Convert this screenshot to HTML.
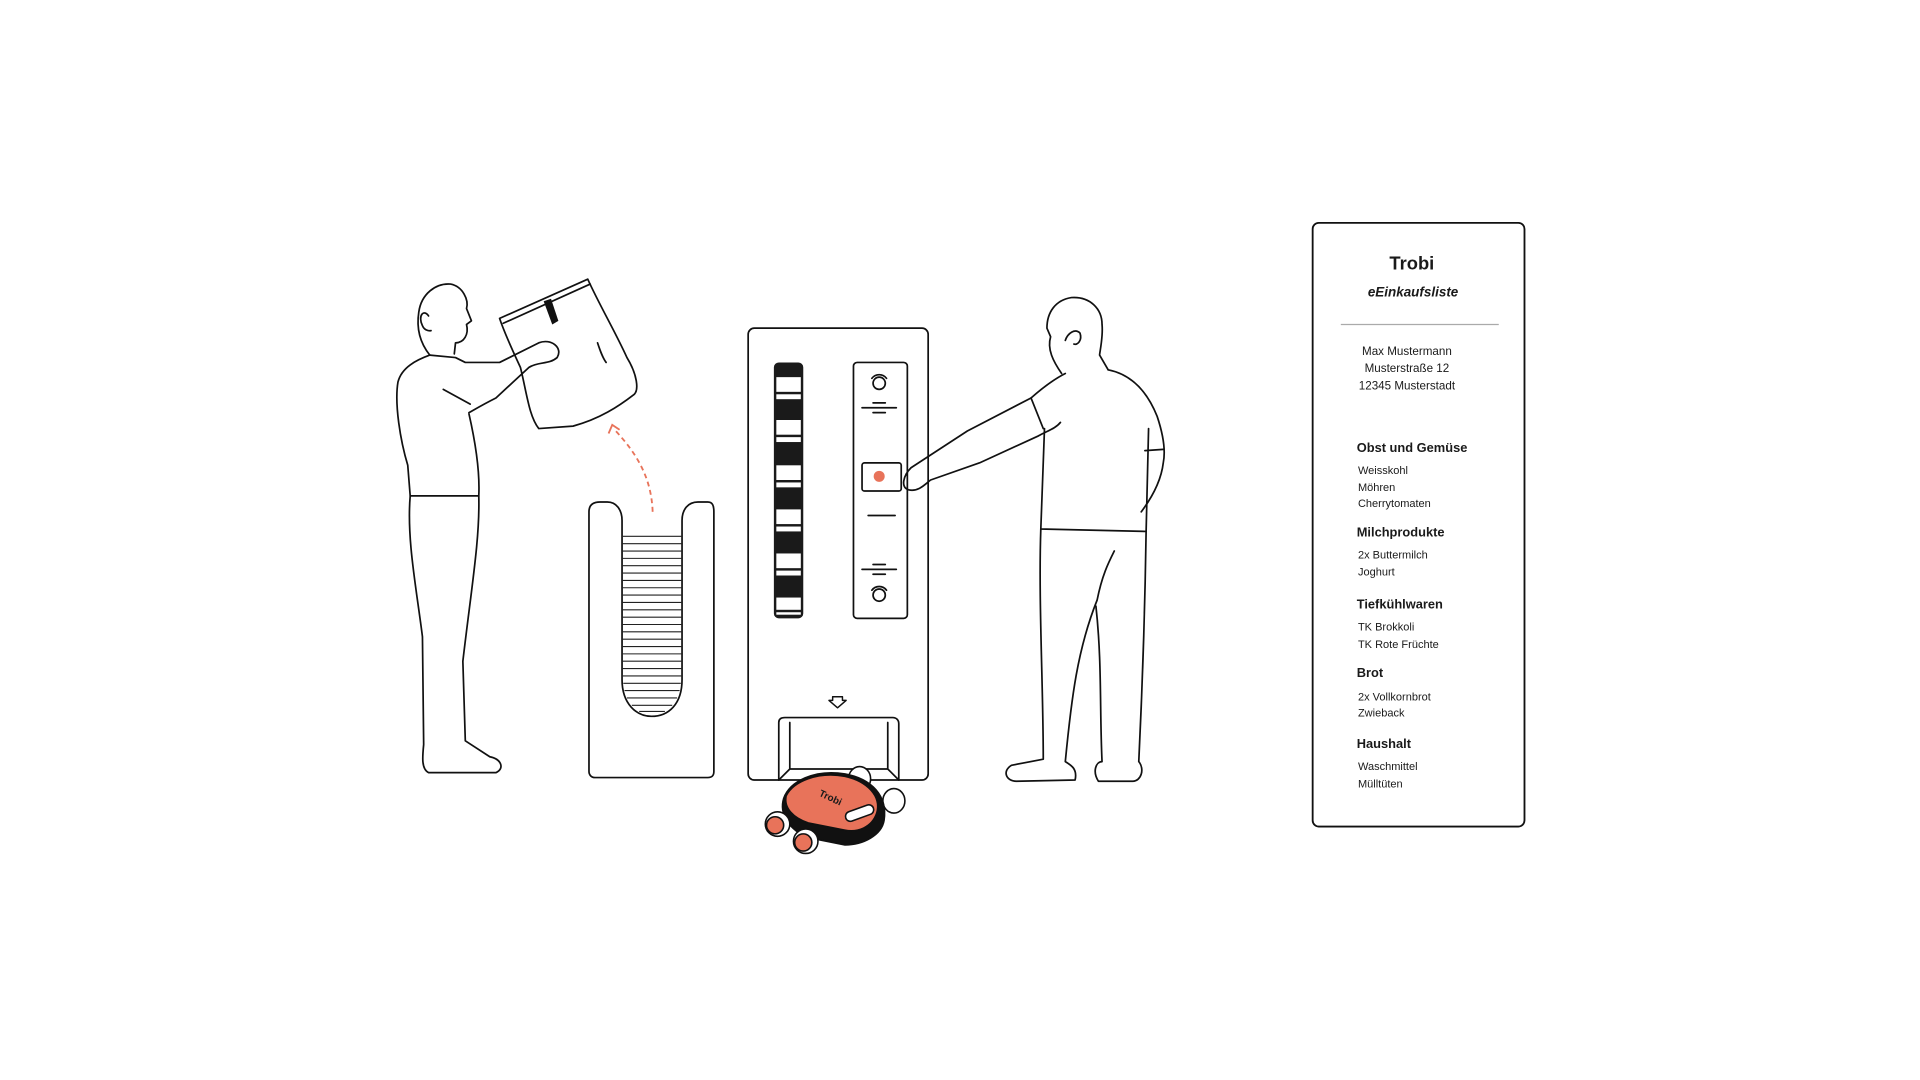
<!DOCTYPE html>
<html><head><meta charset="utf-8"><style>
html,body{margin:0;padding:0;background:#fff;}
svg{display:block}
text{font-family:"Liberation Sans",sans-serif;fill:#1a1a1a}
</style></head><body>
<svg width="1920" height="1080" viewBox="0 0 1568 882" xmlns="http://www.w3.org/2000/svg">
<rect width="1568" height="882" fill="#fff"/>
<g fill="none" stroke="#111" stroke-width="1.4" stroke-linejoin="round" stroke-linecap="round">
<!-- Left person -->
<path d="M351 290 C343 280 340 268 342 255 C344 240 356 231 368 232 C378 234 383 245 381 252 L385 262 L381 265 C383 273 379 280 372 280 L371 289"/>
<path d="M350 258 C346 252 341 258 345 266 C347 271 352 270 352 270"/>
<path d="M351 290 C340 294 328 300 325 312 C322 330 327 360 333 380 L335 405 L391 405 C392 385 388 360 383 338"/>
<path d="M351 290 L372 292 L380 296 L408 296 L440 280 C450 276 460 284 455 292 C448 298 440 295 432 300 L405 325 C395 330 390 333 383 337"/>
<path d="M362 318 L384 330"/>
<path d="M335 405 C332 440 340 480 345 520 L346 608 C345 618 344 628 350 631 L405 631 C412 628 410 620 400 618 L380 605 L378 540 C385 480 392 440 391 405"/>
<!-- Bag -->
<path d="M408 260 L480 228 C490 250 502 270 512 292 C520 305 522 318 518 322 C505 332 490 342 468 348 L440 350 C432 340 430 320 425 300 C418 285 412 272 408 260 Z"/>
<path d="M411 264 L482 232"/>
<path d="M488 280 C490 286 492 292 495 296"/>
<!-- Right person -->
<path d="M867 305 C860 295 855 285 858 275 L855 268 C855 255 862 245 875 243 C890 242 900 252 900 265 C901 275 898 288 898 290 L905 302"/>
<path d="M870 278 C872 272 878 268 882 272 C884 278 880 282 877 281"/>
<path d="M870 305 C860 310 850 318 842 325 L790 352 L744 382 C738 388 735 398 742 400 C750 402 756 395 760 392 L800 378 L848 356 C855 352 862 350 866 345"/>
<path d="M842 325 L852 350"/>
<path d="M905 302 C920 305 935 315 945 340 C950 355 952 368 950 378 C948 395 938 410 932 418"/>
<path d="M935 368 L950 367"/>
<path d="M853 350 L850 432 L936 434 L938 350"/>
<path d="M850 432 C848 490 852 560 852 620 L826 625 C818 630 822 638 830 638 L878 637 C880 628 875 625 870 622 C875 570 880 530 896 490 C900 470 905 460 910 450"/>
<path d="M936 434 C935 500 933 560 930 622 C935 628 932 638 925 638 L897 638 C892 630 895 622 900 622 C898 580 900 540 895 495"/>
<!-- Bin -->
<path d="M481 418 C481 412 485 410 490 410 L496 410 C503 410 508 416 508 425 L508 555 C508 575 520 585 532 585 C546 585 557 575 557 555 L557 425 C557 416 562 410 570 410 L578 410 C582 410 583 413 583 418 L583 630 C583 634 581 635 578 635 L486 635 C483 635 481 633 481 630 Z"/>
<!-- Machine -->
<rect x="611" y="268" width="147" height="369" rx="5"/>
<rect x="697" y="296" width="44" height="209" rx="3"/>
<rect x="704" y="378" width="32" height="23" rx="2"/>
<path d="M709 421 L731 421"/>
<circle cx="718" cy="313" r="5"/><path d="M712 309 C715 305 721 305 724 309"/>
<circle cx="718" cy="486" r="5"/><path d="M712 482 C715 478 721 478 724 482"/>
<path d="M704 333 L732 333 M713 329 L723 329 M713 337 L723 337"/>
<path d="M704 465 L732 465 M713 461 L723 461 M713 469 L723 469"/>
<path d="M680 569 L688 569 L688 572 L691 572 L684 578 L677 572 L680 572 Z" stroke-width="1.2"/>
<path d="M636 637 L636 590 C636 587 638 586 641 586 L729 586 C732 586 734 588 734 591 L734 637"/>
<path d="M645 590 L645 628 L636 637 M725 590 L725 628 L734 637 M645 628 L725 628"/>
<!-- Card -->
<rect x="1072" y="182" width="173" height="493" rx="5" stroke-width="1.5"/>
</g>
<path d="M444 246 L450 244 L456 262 L451 265 Z" fill="#111"/>
<!-- bin stripes -->
<g stroke="#222" stroke-width="0.9">
<path d="M508 438 H557 M508 444 H557 M508 450 H557 M508 456 H557 M508 462 H557 M508 468 H557 M508 474 H557 M508 480 H557 M508 486 H557 M508 492 H557 M508 498 H557 M508 504 H557 M508 510 H557 M508 516 H557 M508 522 H557 M508 528 H557 M508 534 H557 M508 540 H557 M508 546 H557 M508 552 H557 M509 558 H556 M510 564 H555 M512 570 H553 M516 576 H549 M522 581 H543"/>
</g>
<!-- barcode -->
<rect x="632" y="296" width="24" height="209" rx="4" fill="#1a1a1a"/>
<g fill="#fff">
<rect x="634" y="308" width="20" height="12"/><rect x="634" y="322" width="20" height="4"/>
<rect x="634" y="343" width="20" height="12"/><rect x="634" y="357" width="20" height="4"/>
<rect x="634" y="380" width="20" height="12"/><rect x="634" y="394" width="20" height="4"/>
<rect x="634" y="416" width="20" height="12"/><rect x="634" y="430" width="20" height="4"/>
<rect x="634" y="452" width="20" height="12"/><rect x="634" y="466" width="20" height="4"/>
<rect x="634" y="488" width="20" height="10"/><rect x="634" y="500" width="20" height="2"/>
</g>
<circle cx="718" cy="389" r="4.5" fill="#e8735a"/>
<!-- dashed arrow -->
<path d="M533 418 C532 390 520 370 501 350" fill="none" stroke="#e8735a" stroke-width="1.5" stroke-dasharray="4 3"/>
<path d="M497 354 L500 347 L506 351" fill="none" stroke="#e8735a" stroke-width="1.5"/>
<!-- robot -->
<g stroke="#111" stroke-width="1.3">
<ellipse cx="702" cy="636" rx="9" ry="10" fill="#fff"/>
<ellipse cx="730" cy="654" rx="9" ry="10" fill="#fff"/>
<path d="M640 652 C645 638 665 628 690 632 C712 636 725 650 722 670 C720 682 705 690 690 690 L660 684 C645 678 636 665 640 652 Z" fill="#111"/>
<path d="M642 650 C648 638 668 630 690 634 C708 638 720 650 716 664 C712 676 700 680 690 678 L660 672 C648 668 640 660 642 650 Z" fill="#e8735a"/>
<rect x="690" y="660" width="24" height="8" rx="4" fill="#fff" transform="rotate(-20 702 664)"/>
<ellipse cx="635" cy="673" rx="10" ry="10" fill="#fff"/>
<circle cx="633" cy="674" r="7" fill="#e8735a"/>
<ellipse cx="658" cy="687" rx="10" ry="10" fill="#fff"/>
<circle cx="656" cy="688" r="7" fill="#e8735a"/>
</g>
<text x="678" y="654" font-size="8" font-weight="bold" transform="rotate(25 678 652)" text-anchor="middle">Trobi</text>
<!-- Card text -->
<text x="1153" y="220" font-size="15" font-weight="bold" text-anchor="middle">Trobi</text>
<text x="1154" y="242" font-size="11" font-weight="bold" font-style="italic" text-anchor="middle">eEinkaufsliste</text>
<line x1="1095" y1="265" x2="1224" y2="265" stroke="#aaa" stroke-width="1"/>
<g font-size="9.5" text-anchor="middle">
<text x="1149" y="290">Max Mustermann</text>
<text x="1149" y="304">Musterstraße 12</text>
<text x="1149" y="318">12345 Musterstadt</text>
</g>
<g font-size="10.5" font-weight="bold">
<text x="1108" y="369">Obst und Gemüse</text>
<text x="1108" y="438">Milchprodukte</text>
<text x="1108" y="497">Tiefkühlwaren</text>
<text x="1108" y="553">Brot</text>
<text x="1108" y="611">Haushalt</text>
</g>
<g font-size="9">
<text x="1109" y="387">Weisskohl</text><text x="1109" y="401">Möhren</text><text x="1109" y="414">Cherrytomaten</text>
<text x="1109" y="456">2x Buttermilch</text><text x="1109" y="470">Joghurt</text>
<text x="1109" y="515">TK Brokkoli</text><text x="1109" y="529">TK Rote Früchte</text>
<text x="1109" y="572">2x Vollkornbrot</text><text x="1109" y="585">Zwieback</text>
<text x="1109" y="629">Waschmittel</text><text x="1109" y="643">Mülltüten</text>
</g>
</svg>
</body></html>
